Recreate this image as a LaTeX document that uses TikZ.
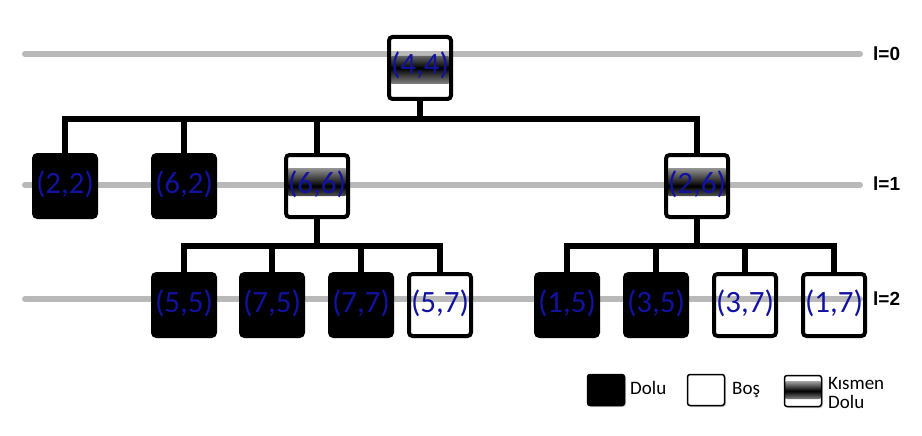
\documentclass[tikz,border=0pt]{standalone}
\usepackage{fontspec}
\setmainfont{Carlito}
\newfontfamily\lblfont{Liberation Sans}
\usetikzlibrary{shadows}
\definecolor{nodeblue}{RGB}{18,18,160}
\tikzset{
  lvl/.style={line width=6pt, draw=gray!55, line cap=round},
  conn/.style={line width=5.5pt, line join=miter, draw=black},
  boxbase/.style={rounded corners=3.5pt, line width=4pt, minimum width=62pt, minimum height=62pt, inner sep=0pt, text=nodeblue, font=\fontsize{31}{31}\selectfont, text height=23pt, text depth=9pt},
  full/.style={boxbase, draw=black, fill=black},
  empty/.style={boxbase, draw=black},
  bandfill/.style 2 args={path picture={
    \shade[top color=white, bottom color=white, middle color=black]
      ([yshift=#1]path picture bounding box.west) rectangle ([yshift=#2]path picture bounding box.east);}},
  part/.style={boxbase, draw=black, bandfill={-10pt}{18pt}},
  lbl/.style={font=\lblfont\bfseries\fontsize{19}{19}\selectfont, anchor=west, inner sep=0pt},
  legbox/.style={rounded corners=2.5pt, line width=1.5pt, draw=black, minimum width=37pt, minimum height=31pt, inner sep=0pt, drop shadow={opacity=0.35, shadow xshift=1.5pt, shadow yshift=-1.5pt}},
  legtxt/.style={font=\fontsize{19}{19}\selectfont, anchor=west, inner sep=0pt}
}
\begin{document}
\begin{tikzpicture}[x=1pt, y=-1pt]
\useasboundingbox (0,0) rectangle (922,436);
% level lines
\coordinate (g0a) at (25,54);  \coordinate (g0b) at (860,54);
\coordinate (g1a) at (25,185); \coordinate (g1b) at (860,185);
\coordinate (g2a) at (25,299); \coordinate (g2b) at (860,299);
\draw[lvl] (g0a) -- (g0b);
\draw[lvl] (g1a) -- (g1b);
\draw[lvl] (g2a) -- (g2b);
\node[lbl] (t0) at (873,54) {l=0};
\node[lbl] (t1) at (873,184) {l=1};
\node[lbl] (t2) at (873,299) {l=2};
% bus coordinates
\coordinate (b0) at (420,119);
\coordinate (b1) at (317,246);
\coordinate (b2) at (697,246);
% nodes
\node[part, bandfill={-16pt}{12pt}]  (n44) at (420,68)  {(4,4)};
\node[full]  (n22) at (65,186)  {(2,2)};
\node[full]  (n62) at (184,186) {(6,2)};
\node[part]  (n66) at (317,186) {(6,6)};
\node[part]  (n26) at (697,186) {(2,6)};
\node[full]  (n55) at (184,305) {(5,5)};
\node[full]  (n75) at (272,305) {(7,5)};
\node[full]  (n77) at (361,305) {(7,7)};
\node[empty] (n57) at (440,305) {(5,7)};
\node[full]  (n15) at (567,305) {(1,5)};
\node[full]  (n35) at (656,305) {(3,5)};
\node[empty] (n37) at (745,305) {(3,7)};
\node[empty] (n17) at (834,305) {(1,7)};
% connectors level 0 -> 1
\draw[conn] (n44.south) -- (b0);
\draw[conn] (n22.north) -- (n22.north |- b0) -- (n26.north |- b0) -- (n26.north);
\draw[conn] (n62.north) -- (n62.north |- b0);
\draw[conn] (n66.north) -- (n66.north |- b0);
% connectors (6,6) -> children
\draw[conn] (n66.south) -- (b1);
\draw[conn] (n55.north) -- (n55.north |- b1) -- (n57.north |- b1) -- (n57.north);
\draw[conn] (n75.north) -- (n75.north |- b1);
\draw[conn] (n77.north) -- (n77.north |- b1);
% connectors (2,6) -> children
\draw[conn] (n26.south) -- (b2);
\draw[conn] (n15.north) -- (n15.north |- b2) -- (n17.north |- b2) -- (n17.north);
\draw[conn] (n35.north) -- (n35.north |- b2);
\draw[conn] (n37.north) -- (n37.north |- b2);
% legend
\node[legbox, fill=black] (lf) at (606,390) {};
\node[legtxt] (lft) at (630,388) {Dolu};
\node[legbox, fill=white] (le) at (706,390) {};
\node[legtxt] (let) at (732,390) {Boş};
\node[legbox, fill=white, bandfill={-8pt}{10pt}] (lp) at (803,391) {};
\node[legtxt] (lpt1) at (828,383) {Kısmen};
\node[legtxt] (lpt2) at (828,402) {Dolu};
\end{tikzpicture}
\end{document}
